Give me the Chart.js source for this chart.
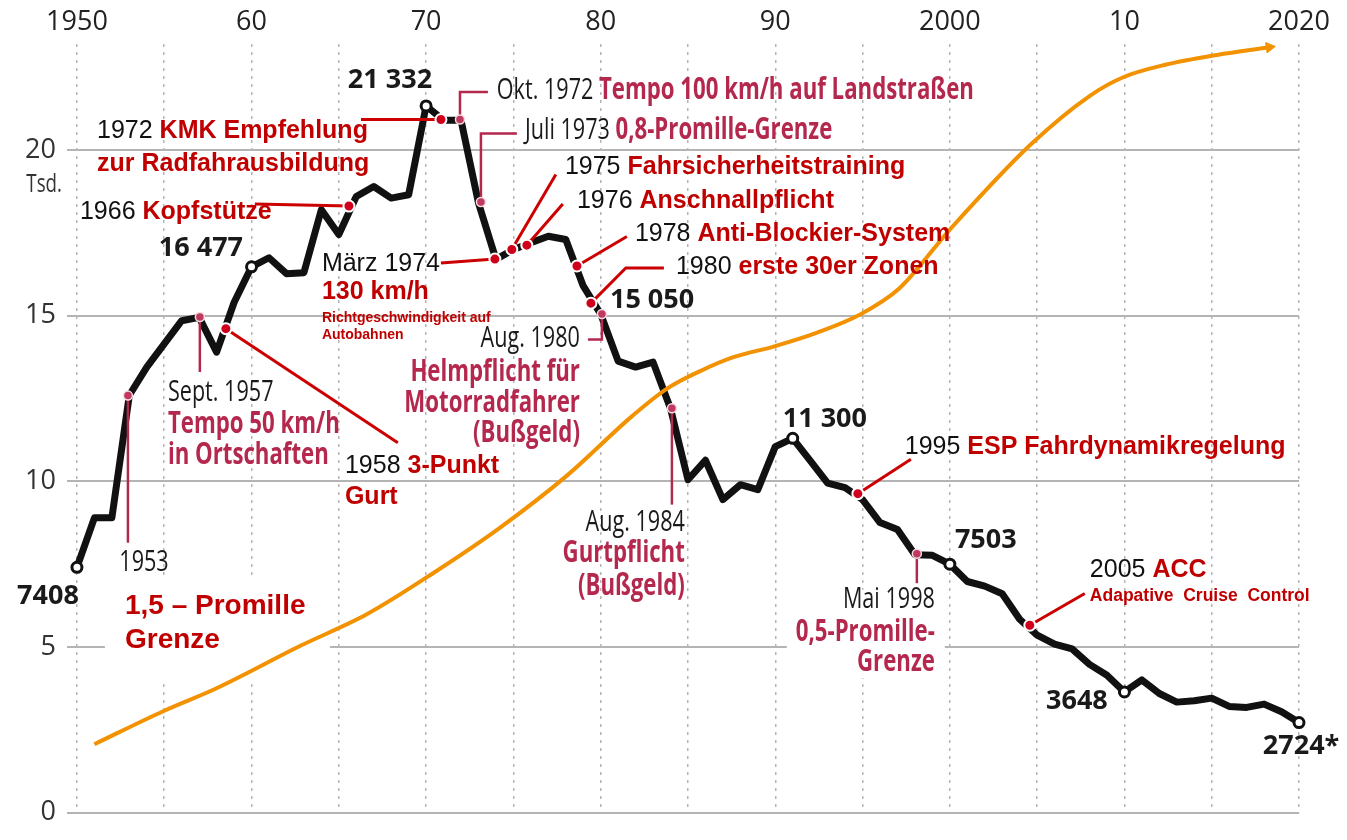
<!DOCTYPE html>
<html>
<head>
<meta charset="utf-8">
<script src="https://cdn.jsdelivr.net/npm/chart.js@4.4.1/dist/chart.umd.min.js"></script>
<style>
  html, body { margin: 0; padding: 0; background: #fff; }
</style>
</head>
<body>
<canvas id="myChart" width="1347" height="840"></canvas>
<script>
// Verkehrstote in Deutschland, in Tausend
const years = [1950, 1951, 1952, 1953, 1954, 1955, 1956, 1957, 1958, 1959,
  1960, 1961, 1962, 1963, 1964, 1965, 1966, 1967, 1968, 1969,
  1970, 1971, 1972, 1973, 1974, 1975, 1976, 1977, 1978, 1979,
  1980, 1981, 1982, 1983, 1984, 1985, 1986, 1987, 1988, 1989,
  1990, 1991, 1992, 1993, 1994, 1995, 1996, 1997, 1998, 1999,
  2000, 2001, 2002, 2003, 2004, 2005, 2006, 2007, 2008, 2009,
  2010, 2011, 2012, 2013, 2014, 2015, 2016, 2017, 2018, 2019, 2020];
const deaths = [7.408, 8.9, 8.9, 12.6, 13.45, 14.15, 14.85, 14.95, 13.9, 15.4,
  16.477, 16.75, 16.27, 16.3, 18.2, 17.45, 18.6, 18.9, 18.55, 18.65,
  21.332, 20.9, 20.9, 18.4, 16.7, 17.0, 17.2, 17.4, 17.3, 15.9,
  15.05, 13.63, 13.45, 13.6, 12.2, 10.05, 10.64, 9.45, 9.9, 9.75,
  11.05, 11.3, 10.63, 9.95, 9.81, 9.45, 8.76, 8.55, 7.79, 7.77,
  7.503, 6.98, 6.84, 6.61, 5.84, 5.36, 5.09, 4.95, 4.48, 4.15,
  3.648, 4.01, 3.6, 3.34, 3.38, 3.46, 3.21, 3.18, 3.28, 3.05, 2.724];
const circledYears = [1950, 1960, 1970, 1991, 2000, 2010, 2020];

// orange curve (no own axis)
const carsYears = [1951.0, 1955.0, 1958.0, 1962.8, 1966.6, 1970.4, 1974.2, 1978.1, 1981.8, 1983.8,
  1985.7, 1987.6, 1989.9, 1992.4, 1994.8, 1997.1, 2000.0, 2004.6, 2008.0, 2009.9, 2012.4, 2015.3, 2018.3];
const carsLevel = [2.07, 3.08, 3.76, 5.04, 5.99, 7.23, 8.59, 10.19, 11.97, 12.8,
  13.33, 13.75, 14.07, 14.49, 15.02, 15.82, 17.6, 20.15, 21.63, 22.19, 22.58, 22.87, 23.1];

// event markers sitting on the line
const redEventX = [1958.53, 1965.58, 1970.85, 1973.94, 1974.91, 1975.77, 1978.64, 1979.44, 1994.73, 2004.58];
const redEventY = [14.61, 18.31, 20.92, 16.71, 17.0, 17.13, 16.5, 15.38, 9.63, 5.66];
const pinkEventX = [1952.92, 1957.04, 1971.94, 1973.14, 1980.07, 1984.08, 1998.11];
const pinkEventY = [12.59, 14.96, 20.92, 18.43, 15.05, 12.21, 7.82];

// axes
const gridYears = [1950, 1955, 1960, 1965, 1970, 1975, 1980, 1985, 1990, 1995, 2000, 2005, 2010, 2015, 2020];
const decadeTicks = [1950, 1960, 1970, 1980, 1990, 2000, 2010, 2020];
const decadeLabels = ['1950', '60', '70', '80', '90', '2000', '10', '2020'];
const yTicks = [0, 5, 10, 15, 20];

const ink = {
  yr:   { font: '25px "Liberation Sans", Arial, sans-serif', color: '#111', sx: 1 },
  red:  { font: 'bold 25px "Liberation Sans", Arial, sans-serif', color: '#c00000', sx: 1 },
  redS: { font: 'bold 14px "Liberation Sans", Arial, sans-serif', color: '#c00000', sx: 1 },
  redM: { font: 'bold 17.5px "Liberation Sans", Arial, sans-serif', color: '#c00000', sx: 1 },
  big:  { font: 'bold 28px "Liberation Sans", Arial, sans-serif', color: '#c00000', sx: 1 },
  myr:  { font: '30px "Open Sans", sans-serif', color: '#1a1a1a', sx: 0.72 },
  rasp: { font: 'bold 30px "Open Sans", sans-serif', color: '#b5284e', sx: 0.74 },
  num:  { font: 'bold 27px "Open Sans", sans-serif', color: '#1a1a1a', sx: 1.0 },
  tsd:  { font: '26px "Open Sans", sans-serif', color: '#333', sx: 0.72 }
};

const numberNotes = [
  { at: [1948.34, 6.52], align: 'center', runs: [['7408', 'num']] },
  { at: [1957.10, 17.04], align: 'center', runs: [['16 477', 'num']] },
  { at: [1967.93, 22.10], align: 'center', runs: [['21 332', 'num']] },
  { at: [1980.53, 15.47], align: 'left', runs: [['15 050', 'num']] },
  { at: [1992.84, 11.88], align: 'center', runs: [['11 300', 'num']] },
  { at: [2002.06, 8.21], align: 'center', runs: [['7503', 'num']] },
  { at: [2007.28, 3.35], align: 'center', runs: [['3648', 'num']] },
  { at: [2017.93, 2.01], align: 'left', runs: [['2724*', 'num']] },
  { at: [1949.14, 18.96], align: 'right', runs: [['Tsd.', 'tsd']] }
];

const notes = [
  { dot: ['pink', 0], path: [[1952.92, 8.15]], lines: [
    { at: [1953.84, 7.56], align: 'center', runs: [['1953', 'myr']] }] },
  { dot: ['pink', 1], path: [[1957.04, 13.30]], lines: [
    { at: [1955.21, 12.68], align: 'left', runs: [['Sept. 1957', 'myr']] },
    { at: [1955.21, 11.73], align: 'left', runs: [['Tempo 50 km/h', 'rasp']] },
    { at: [1955.21, 10.79], align: 'left', runs: [['in Ortschaften', 'rasp']] }] },
  { dot: ['pink', 2], path: [[1971.94, 21.75], [1973.54, 21.75]], lines: [
    { at: [1974.05, 21.81], align: 'left', runs: [['Okt. 1972 ', 'myr'], ['Tempo 100 km/h auf Landstraßen', 'rasp']] }] },
  { dot: ['pink', 3], path: [[1973.14, 20.50], [1975.20, 20.50]], lines: [
    { at: [1975.66, 20.59], align: 'left', runs: [['Juli 1973 ', 'myr'], ['0,8-Promille-Grenze', 'rasp']] }] },
  { dot: ['pink', 4], path: [[1980.07, 14.28], [1979.27, 14.28]], lines: [
    { at: [1978.81, 14.31], align: 'right', runs: [['Aug. 1980', 'myr']] },
    { at: [1978.81, 13.30], align: 'right', runs: [['Helmpflicht für', 'rasp']] },
    { at: [1978.81, 12.36], align: 'right', runs: [['Motorradfahrer', 'rasp']] },
    { at: [1978.81, 11.44], align: 'right', runs: [['(Bußgeld)', 'rasp']] }] },
  { dot: ['pink', 5], path: [[1984.08, 9.30]], lines: [
    { at: [1984.82, 8.77], align: 'right', runs: [['Aug. 1984', 'myr']] },
    { at: [1984.82, 7.82], align: 'right', runs: [['Gurtpflicht', 'rasp']] },
    { at: [1984.82, 6.84], align: 'right', runs: [['(Bußgeld)', 'rasp']] }] },
  { dot: ['pink', 6], path: [[1998.11, 6.93]], box: [[1990.66, 6.73], [1999.71, 4.06]], lines: [
    { at: [1999.14, 6.43], align: 'right', runs: [['Mai 1998', 'myr']] },
    { at: [1999.14, 5.45], align: 'right', runs: [['0,5-Promille-', 'rasp']] },
    { at: [1999.14, 4.53], align: 'right', runs: [['Grenze', 'rasp']] }] },

  { dot: ['red', 0], path: [[1968.38, 11.17]], lines: [
    { at: [1965.35, 10.46], align: 'left', runs: [['1958 ', 'yr'], ['3-Punkt', 'red']] },
    { at: [1965.35, 9.54], align: 'left', runs: [['Gurt', 'red']] }] },
  { dot: ['red', 1], path: [[1960.19, 18.37]], lines: [
    { at: [1950.17, 18.13], align: 'left', runs: [['1966 ', 'yr'], ['Kopfstütze', 'red']] }] },
  { dot: ['red', 2], path: [[1966.27, 20.92]], lines: [
    { at: [1951.15, 20.56], align: 'left', runs: [['1972 ', 'yr'], ['KMK Empfehlung', 'red']] },
    { at: [1951.15, 19.59], align: 'left', runs: [['zur Radfahrausbildung', 'red']] }] },
  { dot: ['red', 3], path: [[1970.85, 16.59]], lines: [
    { at: [1964.03, 16.56], align: 'left', runs: [['März 1974', 'yr']] },
    { at: [1964.03, 15.70], align: 'left', runs: [['130 km/h', 'red']] },
    { at: [1964.03, 14.93], align: 'left', runs: [['Richtgeschwindigkeit auf', 'redS']] },
    { at: [1964.03, 14.40], align: 'left', runs: [['Autobahnen', 'redS']] }] },
  { dot: ['red', 4], path: [[1977.43, 19.26]], lines: [
    { at: [1977.95, 19.47], align: 'left', runs: [['1975 ', 'yr'], ['Fahrsicherheitstraining', 'red']] }] },
  { dot: ['red', 5], path: [[1977.83, 18.37]], lines: [
    { at: [1978.64, 18.46], align: 'left', runs: [['1976 ', 'yr'], ['Anschnallpflicht', 'red']] }] },
  { dot: ['red', 6], path: [[1981.50, 17.39]], lines: [
    { at: [1981.96, 17.45], align: 'left', runs: [['1978 ', 'yr'], ['Anti-Blockier-System', 'red']] }] },
  { dot: ['red', 7], path: [[1981.44, 16.44], [1983.62, 16.44]], lines: [
    { at: [1984.31, 16.47], align: 'left', runs: [['1980 ', 'yr'], ['erste 30er Zonen', 'red']] }] },
  { dot: ['red', 8], path: [[1997.77, 10.67]], lines: [
    { at: [1997.42, 11.05], align: 'left', runs: [['1995 ', 'yr'], ['ESP Fahrdynamikregelung', 'red']] }] },
  { dot: ['red', 9], path: [[2007.73, 6.62]], lines: [
    { at: [2008.02, 7.32], align: 'left', runs: [['2005 ', 'yr'], ['ACC', 'red']] },
    { at: [2008.02, 6.55], align: 'left', runs: [['Adapative  Cruise  Control', 'redM']] }] },
  { dot: null, box: [[1951.60, 7.08], [1964.49, 4.0]], lines: [
    { at: [1952.75, 6.22], align: 'left', runs: [['1,5 – Promille', 'big']] },
    { at: [1952.75, 5.21], align: 'left', runs: [['Grenze', 'big']] }] }
];

function drawRuns(ctx, x, y, align, runs) {
  const widths = runs.map(([t, s]) => { ctx.font = ink[s].font; return ctx.measureText(t).width * ink[s].sx; });
  const total = widths.reduce((a, b) => a + b, 0);
  let cx = align === 'left' ? x : align === 'right' ? x - total : x - total / 2;
  runs.forEach(([t, s], i) => {
    ctx.save();
    ctx.font = ink[s].font;
    ctx.fillStyle = ink[s].color;
    ctx.textBaseline = 'middle';
    ctx.textAlign = 'left';
    ctx.translate(cx, y);
    ctx.scale(ink[s].sx, 1);
    ctx.fillText(t, 0, 0);
    ctx.restore();
    cx += widths[i];
  });
}

const notesPlugin = {
  id: 'notes',
  beforeDatasetsDraw(chart) {
    const ctx = chart.ctx, xs = chart.scales.x, ys = chart.scales.y;
    ctx.save();
    ctx.fillStyle = '#fff';
    notes.forEach(n => {
      if (!n.box) return;
      const x0 = xs.getPixelForValue(n.box[0][0]), y0 = ys.getPixelForValue(n.box[0][1]);
      const x1 = xs.getPixelForValue(n.box[1][0]), y1 = ys.getPixelForValue(n.box[1][1]);
      ctx.fillRect(x0, y0, x1 - x0, y1 - y0);
    });
    ctx.restore();
  },
  beforeDatasetDraw(chart, args) {
    if (args.index !== 2) return;
    const ctx = chart.ctx, xs = chart.scales.x, ys = chart.scales.y;
    ctx.save();
    ctx.lineJoin = 'miter';
    notes.forEach(n => {
      if (!n.dot) return;
      const red = n.dot[0] === 'red';
      const i = n.dot[1];
      const dx = red ? redEventX[i] : pinkEventX[i];
      const dy = red ? redEventY[i] : pinkEventY[i];
      ctx.strokeStyle = red ? '#cc0000' : '#b5284e';
      ctx.lineWidth = red ? 3 : 2.5;
      ctx.beginPath();
      ctx.moveTo(xs.getPixelForValue(dx), ys.getPixelForValue(dy));
      n.path.forEach(p => ctx.lineTo(xs.getPixelForValue(p[0]), ys.getPixelForValue(p[1])));
      ctx.stroke();
    });
    ctx.restore();
  },
  afterDatasetsDraw(chart) {
    const ctx = chart.ctx, xs = chart.scales.x, ys = chart.scales.y;
    const all = numberNotes.concat(...notes.map(n => n.lines));
    all.forEach(l => drawRuns(ctx, xs.getPixelForValue(l.at[0]), ys.getPixelForValue(l.at[1]), l.align, l.runs));
  }
};

const data = {
  datasets: [
    {
      label: 'Verkehrstote',
      data: years.map((y, i) => ({ x: y, y: deaths[i] })),
      borderColor: '#111',
      borderWidth: 7,
      borderJoinStyle: 'round',
      borderCapStyle: 'round',
      pointRadius: c => circledYears.includes(years[c.dataIndex]) ? 5 : 0,
      pointBorderWidth: 3,
      pointBackgroundColor: '#fff',
      pointBorderColor: '#111',
      clip: false,
      order: 3
    },
    {
      label: 'Fahrzeugbestand',
      data: carsYears.map((y, i) => ({ x: y, y: carsLevel[i] })),
      borderColor: '#f39200',
      borderWidth: 4,
      cubicInterpolationMode: 'monotone',
      pointRadius: c => c.dataIndex === carsYears.length - 1 ? 6 : 0,
      pointStyle: 'triangle',
      rotation: 82,
      pointBackgroundColor: '#f39200',
      pointBorderColor: '#f39200',
      pointBorderWidth: 1,
      clip: false,
      order: 2
    },
    {
      label: 'Maßnahmen (alt)',
      data: pinkEventX.map((x, i) => ({ x: x, y: pinkEventY[i] })),
      showLine: false,
      pointRadius: 4.5,
      pointBorderWidth: 1.5,
      pointBackgroundColor: '#c0395e',
      pointBorderColor: '#f7dbe3',
      clip: false,
      order: 1
    },
    {
      label: 'Maßnahmen',
      data: redEventX.map((x, i) => ({ x: x, y: redEventY[i] })),
      showLine: false,
      pointRadius: 5.5,
      pointBorderWidth: 2,
      pointBackgroundColor: '#d0001c',
      pointBorderColor: '#fff',
      clip: false,
      order: 0
    }
  ]
};

const config = {
  type: 'line',
  data: data,
  options: {
    responsive: false,
    animation: false,
    events: [],
    layout: { padding: { top: 0, left: 0, right: 48, bottom: 13 } },
    plugins: { legend: { display: false }, tooltip: { enabled: false } },
    scales: {
      x: {
        type: 'linear',
        position: 'top',
        min: 1949.43,
        max: 2020,
        afterBuildTicks: s => { s.ticks = gridYears.map(v => ({ value: v })); },
        afterFit: s => { s.height = 44; },
        ticks: {
          autoSkip: false,
          maxRotation: 0,
          padding: 5,
          color: '#222',
          font: { family: '"Open Sans", sans-serif', size: 27 },
          callback: v => { const i = decadeTicks.indexOf(v); return i >= 0 ? decadeLabels[i] : ''; }
        },
        grid: { color: '#b5b5b5', lineWidth: 1.5, drawTicks: false },
        border: { display: false, dash: [3, 5] }
      },
      y: {
        min: 0,
        max: 23.2,
        afterBuildTicks: s => { s.ticks = yTicks.map(v => ({ value: v })); },
        afterFit: s => { s.width = 67; },
        ticks: {
          padding: 11,
          color: '#333',
          font: { family: '"Open Sans", sans-serif', size: 27 }
        },
        grid: { color: '#b4b4b4', lineWidth: 2, drawTicks: false },
        border: { display: false }
      }
    }
  },
  plugins: [notesPlugin]
};

const myChart = new Chart(document.querySelector('#myChart'), config);
</script>
</body>
</html>
